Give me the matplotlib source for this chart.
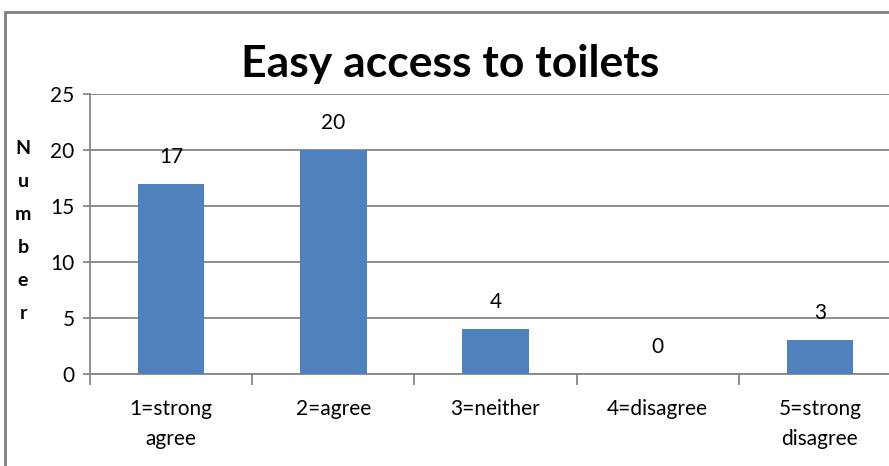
import matplotlib.pyplot as plt
from matplotlib.patches import Rectangle
import numpy as np

categories = ['1=strong\nagree', '2=agree', '3=neither', '4=disagree', '5=strong\ndisagree']
counts = [17, 20, 4, 0, 3]
y_ticks = [0, 5, 10, 15, 20, 25]

plt.rcParams['font.family'] = ['Lato', 'DejaVu Sans']

grey = '#868686'
bar_color = '#4F81BD'

fig = plt.figure(figsize=(8.89, 4.66), dpi=100)
ax = fig.add_axes([90 / 889, 92 / 466, 811 / 889, 280 / 466])

x = np.arange(len(categories))
bars = ax.bar(x, counts, width=0.41, color=bar_color, zorder=3)

for b, v in zip(bars, counts):
    ax.annotate(str(v), (b.get_x() + b.get_width() / 2, v),
                xytext=(0, 27), textcoords='offset pixels',
                ha='center', va='center', fontsize=15, zorder=4)

ax.set_xlim(-0.5, len(categories) - 0.5)
ax.set_ylim(0, 25)
ax.set_yticks(y_ticks)
ax.yaxis.grid(True, color=grey, linewidth=1.3, zorder=0)
ax.tick_params(axis='y', length=5, color=grey, width=1.3, labelsize=15, pad=6)

# category boundaries carry the x ticks, labels sit at the centres
ax.set_xticks(np.arange(len(categories) + 1) - 0.5)
ax.set_xticklabels([])
ax.tick_params(axis='x', length=8, color=grey, width=1.3)
ax.set_xticks(x, minor=True)
ax.set_xticklabels(categories, minor=True, fontsize=15, linespacing=1.65)
ax.tick_params(axis='x', which='minor', length=0, pad=18)

for s in ['top', 'right']:
    ax.spines[s].set_visible(False)
for s in ['left', 'bottom']:
    ax.spines[s].set_color(grey)
    ax.spines[s].set_linewidth(1.3)

fig.text(450 / 889, 1 - 64 / 466, 'Easy access to toilets', ha='center', va='center',
         fontsize=32, fontweight='bold')
fig.text(23 / 889, 1 - 231 / 466, 'N\nu\nm\nb\ne\nr', ha='center', va='center',
         fontsize=14, fontweight='bold', linespacing=2.15)

# chart frame
fig.patches.append(Rectangle((5 / 889, -0.1), 1.2, 1 - 12 / 466 + 0.1,
                             transform=fig.transFigure, fill=False,
                             edgecolor='#7f7f7f', linewidth=2))

fig.savefig('out.png', dpi=100)
